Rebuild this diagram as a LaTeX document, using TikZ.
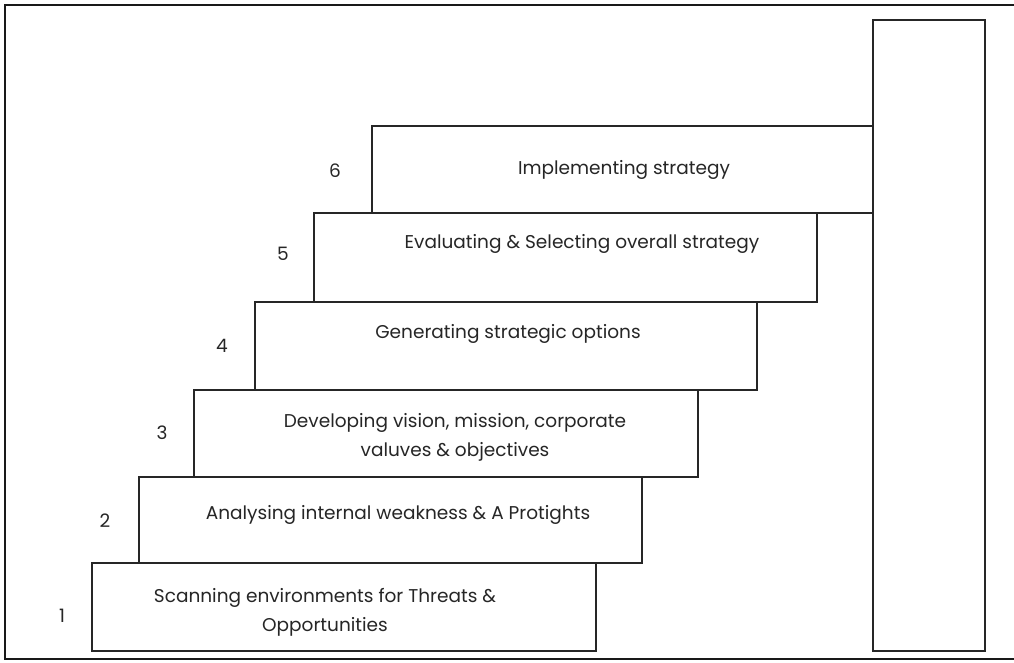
\documentclass[tikz,border=0pt]{standalone}
\usepackage{fontspec}
\setmainfont{Poppins}
\begin{document}
\begin{tikzpicture}[x=1pt,y=-1pt,
  stepbox/.style={draw=black!85, line width=1.3pt, rectangle, inner sep=0pt, fill=white},
  lbl/.style={font=\fontsize{18.5}{29}\selectfont, text=black!85, align=center, inner sep=0pt},
  num/.style={font=\fontsize{18.5}{22}\selectfont, text=black!85, inner sep=0pt},
  frame/.style={draw=black!90, line width=2.6pt}]
\useasboundingbox (0,0) rectangle (1014,663);
% outer frame (open on the right)
\coordinate (ftr) at (1014,5);
\coordinate (ftl) at (5,5);
\coordinate (fbl) at (5,659);
\coordinate (fbr) at (1014,659);
\draw[frame] (ftr) -- (ftl) -- (fbl) -- (fbr);
% tall box
\node[stepbox, minimum width=112pt, minimum height=631pt] (tall) at (929,335.5) {};
% steps
\node[stepbox, minimum width=501pt, minimum height=87pt] (b6) at (622.5,169.5) {};
\node[stepbox, minimum width=503pt, minimum height=89pt] (b5) at (565.5,257.5) {};
\node[stepbox, minimum width=502pt, minimum height=88pt] (b4) at (506,346) {};
\node[stepbox, minimum width=504pt, minimum height=87pt] (b3) at (446,433.5) {};
\node[stepbox, minimum width=503pt, minimum height=86pt] (b2) at (390.5,520) {};
\node[stepbox, minimum width=504pt, minimum height=88pt] (b1) at (344,607) {};
% labels
\node[lbl] (t6) at (624,170) {Implementing strategy};
\node[lbl] (t5) at (582,244) {Evaluating \& Selecting overall strategy};
\node[lbl] (t4) at (508,334) {Generating strategic options};
\node[lbl] (t3) at (455,437) {Developing vision, mission, corporate\\valuves \& objectives};
\node[lbl] (t2) at (398,515) {Analysing internal weakness \& A Protights};
\node[lbl] (t1) at (325,612) {Scanning environments for Threats \&\\Opportunities};
% numbers
\node[num] (n6) at (335,171) {6};
\node[num] (n5) at (283,254) {5};
\node[num] (n4) at (222,346) {4};
\node[num] (n3) at (162,433) {3};
\node[num] (n2) at (105,521) {2};
\node[num] (n1) at (62,616) {1};
\end{tikzpicture}
\end{document}
